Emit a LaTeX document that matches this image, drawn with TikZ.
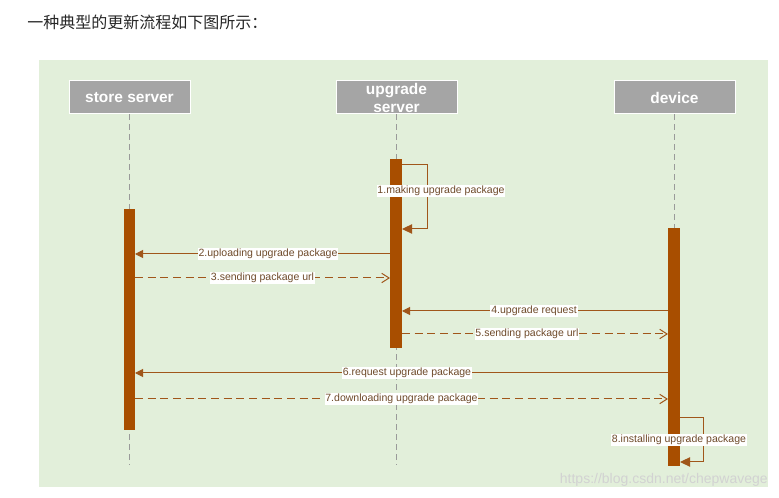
\documentclass[tikz,border=0pt]{standalone}
\usepackage{fontspec}
\setmainfont{Liberation Sans}
\newfontfamily\cjkfont{Noto Sans CJK SC}
\usetikzlibrary{arrows.meta}
\definecolor{bggreen}{HTML}{E2EFDA}
\definecolor{headgray}{HTML}{A5A5A5}
\definecolor{barbrown}{HTML}{A84E00}
\definecolor{msgbrown}{HTML}{A0561A}
\definecolor{lblbrown}{HTML}{6E4A2A}
\definecolor{lifegray}{HTML}{9A9A9A}
\tikzset{
  actor/.style={draw=white, fill=headgray, text=white, line width=0.75pt,
    font=\bfseries\fontsize{11.6}{13.5}\selectfont,
    minimum width=90.75pt, minimum height=24.75pt, inner sep=0pt, align=center},
  lifeline/.style={lifegray, line width=0.6pt, dash pattern=on 4.5pt off 3pt},
  activation/.style={fill=barbrown},
  call/.style={msgbrown, line width=0.75pt, -{Triangle[length=6pt,width=6pt]}},
  reply/.style={msgbrown, line width=0.75pt, dash pattern=on 6pt off 3.5pt,
    -{Straight Barb[length=5.5pt,width=7pt]}},
  msglabel/.style={fill=white, text=lblbrown, inner sep=0.6pt,
    font=\fontsize{7.9}{9}\selectfont}
}

\begin{document}
\begin{tikzpicture}[x=0.75pt, y=-0.75pt]
  \useasboundingbox (0,0) rectangle (779,498);

  % caption line and background
  \node[anchor=west, text=black!85, font=\cjkfont\fontsize{12}{14}\selectfont, inner sep=0pt]
    (caption) at (27,22) {一种典型的更新流程如下图所示：};
  \fill[bggreen] (39,60) rectangle (768,487);

  % participants
  \node[actor] (store)   at (129.5,97.5) {store server};
  \node[actor] (upgrade) at (396.5,97.5) {upgrade\\server};
  \node[actor] (device)  at (674.5,97.5) {device};

  % lifelines
  \foreach \who in {store, upgrade, device}{
    \coordinate (\who end) at ([yshift=-351pt*0.75]\who.south);
    \draw[lifeline] (\who.south) -- (\who end);
  }

  % activation bars
  \fill[activation] (390,159) rectangle (402,348);
  \fill[activation] (124,209) rectangle (135,430);
  \fill[activation] (668,228) rectangle (680,466);

  % self message 1
  \coordinate (l1a) at (402,165);
  \coordinate (l1b) at (402,229);
  \draw[call, -{Triangle[length=7.5pt,width=7pt]}] (l1a) -- ++(25,0) |- (l1b);
  \node[msglabel] (t1) at (441,191) {1.making upgrade package};

  % messages between lifelines (last field: label shift in px)
  \foreach \n/\y/\xa/\xb/\kind/\txt/\dx in {
    2/254/390/135/call/2.uploading upgrade package/5.5,
    3/278/135/390/reply/3.sending package url/0,
    4/311/668/402/call/4.upgrade request/-1,
    5/334/402/668/reply/5.sending package url/-8,
    6/373/668/135/call/6.request upgrade package/5.5,
    7/399/135/668/reply/7.downloading upgrade package/0
  }{
    \coordinate (m\n a) at (\xa,\y);
    \coordinate (m\n b) at (\xb,\y);
    \draw[\kind] (m\n a) -- node[msglabel, xshift=\dx*0.75pt] (t\n) {\txt} (m\n b);
  }

  % self message 8
  \coordinate (l8a) at (680,418);
  \coordinate (l8b) at (680,462);
  \draw[call, -{Triangle[length=7.5pt,width=7pt]}] (l8a) -- ++(23,0) |- (l8b);
  \node[msglabel] (t8) at (679,440) {8.installing upgrade package};

  % watermark
  \node[anchor=east, text=gray!35, inner sep=0pt, font=\fontsize{10.5}{12}\selectfont]
    (mark) at (768,480) {https://blog.csdn.net/chepwavege};
\end{tikzpicture}
\end{document}
